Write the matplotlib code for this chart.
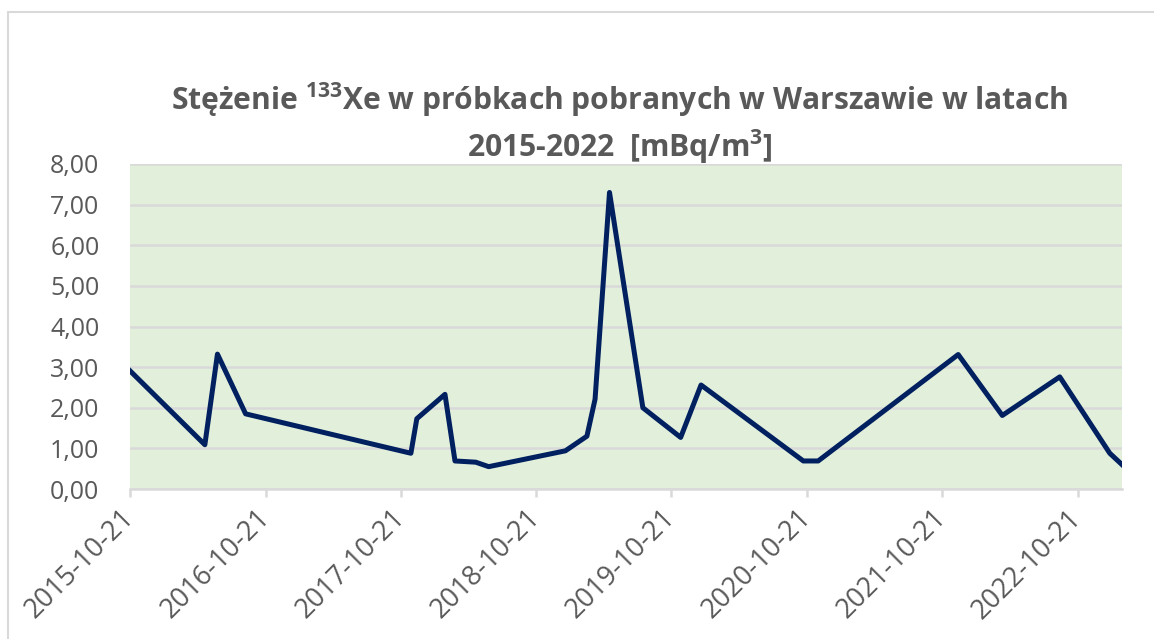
import matplotlib
matplotlib.use('Agg')
import matplotlib.pyplot as plt
from matplotlib.patches import Rectangle
import pandas as pd

# dane
daty = ['2015-10-21', '2016-05-10', '2016-06-13', '2016-08-28', '2017-11-17',
        '2017-12-03', '2018-02-17', '2018-03-16', '2018-05-11', '2018-06-15',
        '2019-01-08', '2019-03-07', '2019-03-29', '2019-05-07', '2019-08-05',
        '2019-11-15', '2020-01-09', '2020-10-11', '2020-11-20', '2021-12-03',
        '2022-04-01', '2022-09-03', '2023-01-16', '2023-02-18']
stezenie = [2.91, 1.09, 3.32, 1.85, 0.88,
            1.73, 2.33, 0.69, 0.66, 0.55,
            0.94, 1.30, 2.21, 7.30, 2.00,
            1.27, 2.56, 0.69, 0.69, 3.31,
            1.81, 2.76, 0.88, 0.60]
etykiety_x = ['2015-10-21', '2016-10-21', '2017-10-21', '2018-10-21',
              '2019-10-21', '2020-10-21', '2021-10-21', '2022-10-21']
tytul = ('Stężenie $\\mathbf{^{133}}$Xe w próbkach pobranych w Warszawie w latach\n'
         '2015-2022  [mBq/m$\\mathbf{^{3}}$]')

daty = pd.to_datetime(daty)
ticki = pd.to_datetime(etykiety_x)

plt.rcParams['font.family'] = ['Open Sans', 'DejaVu Sans']
plt.rcParams['mathtext.fontset'] = 'custom'
plt.rcParams['mathtext.rm'] = 'Open Sans'
plt.rcParams['mathtext.bf'] = 'Open Sans:bold'
szary = '#595959'

fig = plt.figure(figsize=(11.54, 6.39), dpi=100)
ax = fig.add_axes([130 / 1154, 1 - 489 / 639, 992 / 1154, 325 / 639])

# ramka wykresu (jak w Excelu)
fig.patches.append(Rectangle((8 / 1154, -0.1), 2, 1 - 12 / 639 + 0.1,
                             transform=fig.transFigure, fill=False,
                             edgecolor='#d9d9d9', linewidth=1.5))

ax.set_facecolor('#e2efda')
ax.plot(daty, stezenie, color='#002060', linewidth=3.6, solid_joinstyle='round')

ax.set_ylim(0, 8)
ax.set_yticks(range(0, 9))
ax.set_yticklabels([f'{v:.2f}'.replace('.', ',') for v in range(0, 9)])
ax.set_xlim(daty[0], daty[-1])
ax.set_xticks(ticki)
ax.set_xticklabels(etykiety_x, rotation=45, ha='right', va='center',
                   rotation_mode='anchor')

ax.grid(axis='y', color='#d9d9d9', linewidth=1.8)
ax.set_axisbelow(True)
for s in ['top', 'right', 'left']:
    ax.spines[s].set_visible(False)
ax.spines['bottom'].set_color('#d9d9d9')
ax.spines['bottom'].set_linewidth(1.8)
ax.tick_params(axis='y', length=0, pad=22, labelsize=18, labelcolor=szary)
ax.tick_params(axis='x', length=6, width=1.8, color='#d9d9d9', pad=12,
               labelsize=19.5, labelcolor=szary)

fig.text(620 / 1154, 1 - 123 / 639, tytul, ha='center', va='center',
         fontsize=21.6, fontweight='bold', color=szary, linespacing=1.3)

fig.savefig('out.png', dpi=100)
